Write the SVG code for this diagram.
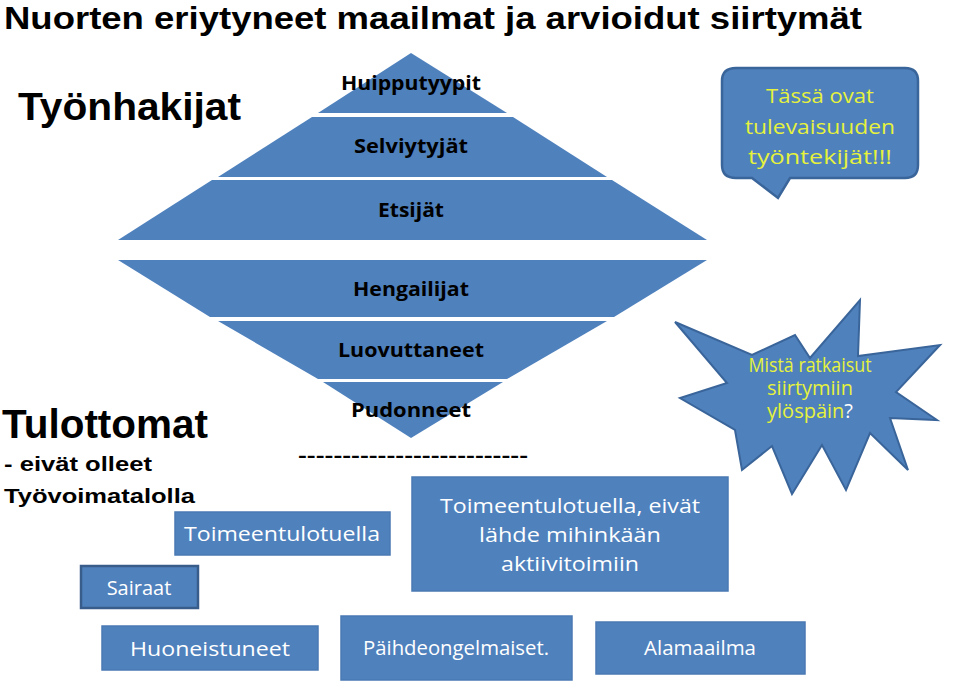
<svg xmlns="http://www.w3.org/2000/svg" width="960" height="687" viewBox="0 0 960 687">
<style>
.b{fill:#4f81bd}
.bx{fill:#4f81bd;stroke:#4a7ab3;stroke-width:1.5}
.pl{font-family:"Open Sans","Noto Sans",sans-serif;font-weight:bold;font-size:20px;fill:#000;text-anchor:middle}
.w{font-family:"Open Sans","Noto Sans",sans-serif;font-size:20px;fill:#fff;text-anchor:middle}
.y{font-family:"Open Sans","Noto Sans",sans-serif;font-size:20px;fill:#e6f23c;text-anchor:middle}
.h{font-family:"Liberation Sans",Arial,sans-serif;font-weight:bold;fill:#000}
</style>
<rect width="960" height="687" fill="#fff"/>
<text class="h" x="4" y="29" font-size="31" textLength="858" lengthAdjust="spacingAndGlyphs">Nuorten eriytyneet maailmat ja arvioidut siirtymät</text>
<text class="h" x="18" y="120" font-size="38" textLength="223" lengthAdjust="spacingAndGlyphs">Työnhakijat</text>
<text class="h" x="2" y="438" font-size="40" textLength="206" lengthAdjust="spacingAndGlyphs">Tulottomat</text>
<text class="h" x="4" y="471" font-size="21" textLength="148" lengthAdjust="spacingAndGlyphs">- eivät olleet</text>
<text class="h" x="4" y="503" font-size="21" textLength="191" lengthAdjust="spacingAndGlyphs">Työvoimatalolla</text>
<g id="pyramid">
<polygon class="b" points="411,53 507,113 318,113"/>
<polygon class="b" points="312,117 513,117 607,177 218,177"/>
<polygon class="b" points="212,180 612,180 707,240 118,240"/>
<polygon class="b" points="118,260 707,260 614,317 210,317"/>
<polygon class="b" points="218,321 607,321 507,379 318,379"/>
<polygon class="b" points="323,382 503,382 411,438"/>
<text class="pl" x="411" y="90" textLength="140" lengthAdjust="spacingAndGlyphs">Huipputyypit</text>
<text class="pl" x="411" y="153" textLength="114" lengthAdjust="spacingAndGlyphs">Selviytyjät</text>
<text class="pl" x="411" y="217" textLength="66" lengthAdjust="spacingAndGlyphs">Etsijät</text>
<text class="pl" x="411" y="296" textLength="116" lengthAdjust="spacingAndGlyphs">Hengailijat</text>
<text class="pl" x="411" y="357" textLength="146" lengthAdjust="spacingAndGlyphs">Luovuttaneet</text>
<text class="pl" x="411" y="417" textLength="120" lengthAdjust="spacingAndGlyphs">Pudonneet</text>
</g>
<text class="h" x="298" y="462" font-size="18" textLength="230" lengthAdjust="spacingAndGlyphs">--------------------------</text>
<g id="callout">
<path class="b" d="M736,68 H905 Q918,68 918,81 V165 Q918,178 905,178 H790 L778,198 L752,178 H736 Q722,178 722,165 V81 Q722,68 736,68 Z" stroke="#3a659a" stroke-width="2.5"/>
<text class="y" x="820" y="103" textLength="108" lengthAdjust="spacingAndGlyphs">Tässä ovat</text>
<text class="y" x="820" y="134" textLength="150" lengthAdjust="spacingAndGlyphs">tulevaisuuden</text>
<text class="y" x="820" y="164" textLength="144" lengthAdjust="spacingAndGlyphs">työntekijät!!!</text>
</g>
<g id="star">
<polygon class="b" stroke="#3a659a" stroke-width="2" points="675,322 752,355 795,335 810,358 860,300 858,356 940,345 896,392 937,420 890,418 908,470 870,433 846,490 822,445 792,494 772,446 742,470 735,430 680,398 727,383"/>
<text class="y" x="810" y="372" font-size="15" textLength="123" lengthAdjust="spacingAndGlyphs">Mistä ratkaisut</text>
<text class="y" x="810" y="395" font-size="15">siirtymiin</text>
<text class="y" x="810" y="418" font-size="15">ylöspäin<tspan fill="#fff">?</tspan></text>
</g>
<g id="tt"><rect class="bx" x="175" y="512" width="215" height="43"/><text class="w" x="282" y="541" textLength="196" lengthAdjust="spacingAndGlyphs">Toimeentulotuella</text></g>
<g id="big"><rect class="bx" x="412" y="477" width="316" height="114"/>
<text class="w" x="570" y="513" textLength="260" lengthAdjust="spacingAndGlyphs">Toimeentulotuella, eivät</text>
<text class="w" x="570" y="542" textLength="182" lengthAdjust="spacingAndGlyphs">lähde mihinkään</text>
<text class="w" x="570" y="571" textLength="138" lengthAdjust="spacingAndGlyphs">aktiivitoimiin</text></g>
<g id="sairaat"><rect class="b" x="81" y="566" width="117" height="42" stroke="#385d8a" stroke-width="2.5"/><text class="w" x="139" y="595">Sairaat</text></g>
<g id="huon"><rect class="bx" x="102" y="626" width="216" height="44"/><text class="w" x="210" y="656" textLength="160" lengthAdjust="spacingAndGlyphs">Huoneistuneet</text></g>
<g id="paih"><rect class="bx" x="341" y="616" width="231" height="64"/><text class="w" x="456" y="655" textLength="186" lengthAdjust="spacingAndGlyphs">Päihdeongelmaiset.</text></g>
<g id="ala"><rect class="bx" x="596" y="622" width="209" height="52"/><text class="w" x="700" y="655" textLength="112" lengthAdjust="spacingAndGlyphs">Alamaailma</text></g>
<g id="connectors"/>
</svg>
